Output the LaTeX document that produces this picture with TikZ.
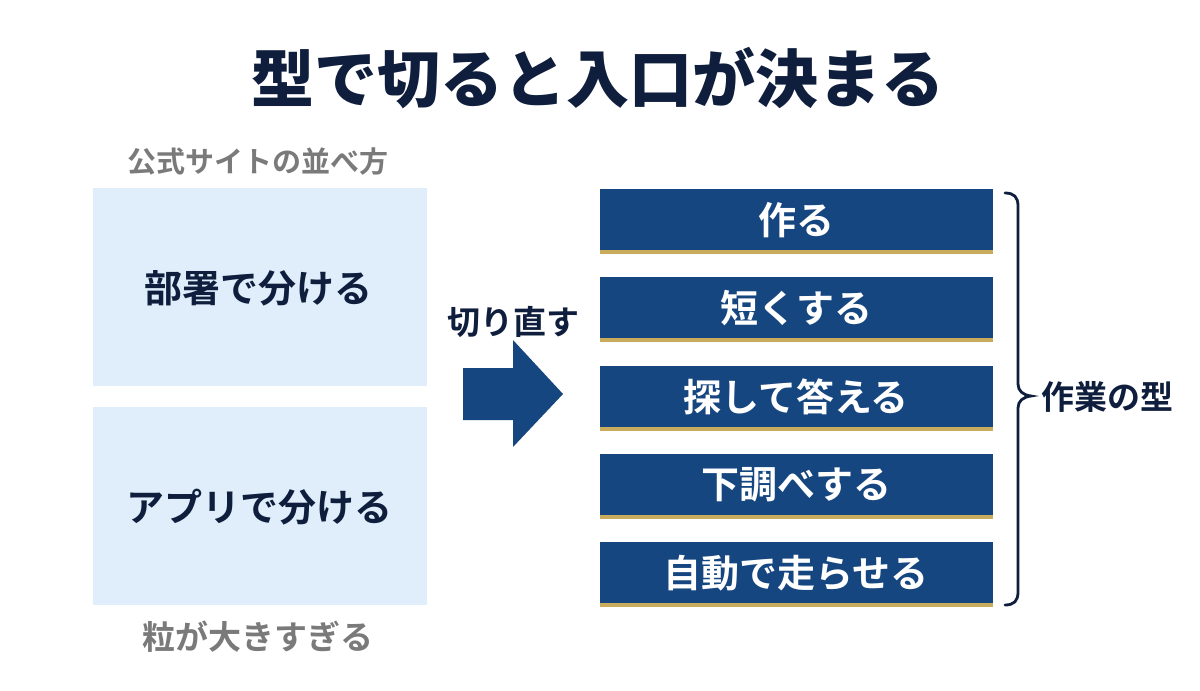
\documentclass[tikz,border=0pt]{standalone}
\usepackage{fontspec}
\setmainfont{Noto Sans CJK JP}[BoldFont={Noto Sans CJK JP Bold}]
\newfontfamily\jpblack{Noto Sans CJK JP Black}
\definecolor{navy}{HTML}{0F1E3C}
\definecolor{greytxt}{HTML}{7A7A7A}
\definecolor{paleblue}{HTML}{DFEEFA}
\definecolor{boxblue}{HTML}{164680}
\definecolor{gold}{HTML}{C9AB5E}
\begin{document}
\begin{tikzpicture}[x=1pt,y=-1pt,
  title/.style={font=\jpblack\fontsize{63}{70}\selectfont, text=navy},
  grey/.style={font=\bfseries\fontsize{29}{34}\selectfont, text=greytxt},
  grey2/.style={font=\bfseries\fontsize{33}{38}\selectfont, text=greytxt},
  lefttxt/.style={font=\bfseries\fontsize{38}{44}\selectfont, text=navy},
  righttxt/.style={font=\bfseries\fontsize{38}{44}\selectfont, text=white},
  side/.style={font=\bfseries\fontsize{33}{38}\selectfont, text=navy},
  leftbox/.style={fill=paleblue, draw=none},
  bluebar/.style={fill=boxblue, draw=none},
  goldbar/.style={fill=gold, draw=none}]
\useasboundingbox (0,0) rectangle (1200,691);
\fill[white] (0,0) rectangle (1200,691);
\node[title] (t) at (598,78) {型で切ると入口が決まる};
\node[grey] (g1) at (258,162) {公式サイトの並べ方};
\node[grey2] (g2) at (258,637) {粒が大きすぎる};
\fill[leftbox] (93,188) rectangle (427,386);
\fill[leftbox] (93,407) rectangle (427,605);
\node[lefttxt] (l1) at (258,288) {部署で分ける};
\node[lefttxt] (l2) at (259,507) {アプリで分ける};
\node[side] (cut) at (513,322) {切り直す};
\fill[boxblue] (463,368) -- (513,368) -- (513,340) -- (563,394) -- (513,447) -- (513,420) -- (463,420) -- cycle;
\foreach \i/\t in {0/作る,1/短くする,2/探して答える,3/下調べする,4/自動で走らせる}{
  \pgfmathsetmacro{\yy}{189+88.3*\i}
  \fill[bluebar] (600,\yy) rectangle (993,\yy+61);
  \fill[goldbar] (600,\yy+61) rectangle (993,\yy+65);
  \node[righttxt] (r\i) at (796,\yy+31) {\t};
}
\draw[navy, line width=2.8pt, line cap=round]
  (1005,193) .. controls (1014,193) and (1018,197) .. (1018,206) -- (1018,384)
  .. controls (1018,391) and (1023,395) .. (1031,396)
  .. controls (1023,397) and (1018,401) .. (1018,408) -- (1018,592)
  .. controls (1018,601) and (1014,605) .. (1005,605);
\node[side, anchor=west] (type) at (1038,397) {作業の型};
\end{tikzpicture}
\end{document}
